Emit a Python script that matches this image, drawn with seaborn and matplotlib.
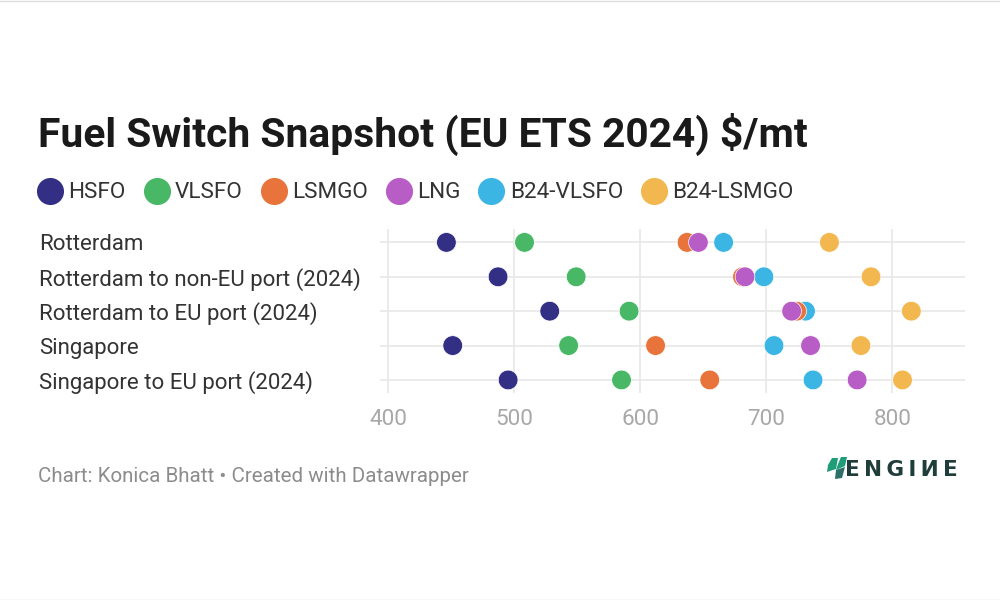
import pandas as pd
import matplotlib.pyplot as plt
from matplotlib.patches import Polygon
import seaborn as sns

# Values, $/mt
ports = ['Rotterdam', 'Rotterdam to non-EU port (2024)', 'Rotterdam to EU port (2024)',
         'Singapore', 'Singapore to EU port (2024)']
hsfo = [446, 487, 528, 451, 495]
vlsfo = [508, 549, 591, 543, 585]
lsmgo = [637, 681, 724, 612, 655]
lng = [646, 683, 720, 735, 772]
b24_vlsfo = [666, 698, 731, 706, 737]
b24_lsmgo = [750, 783, 815, 775, 808]

fuel_order = ['HSFO', 'VLSFO', 'LSMGO', 'LNG', 'B24-VLSFO', 'B24-LSMGO']
fuel_colors = ['#322f85', '#48b866', '#e8743b', '#b85cc6', '#3bb5e4', '#f3b74f']
x_ticks = [400, 500, 600, 700, 800]

sns.set_theme(style='white')
plt.rcParams['font.family'] = ['Roboto', 'DejaVu Sans']

series = {'HSFO': hsfo, 'VLSFO': vlsfo, 'B24-LSMGO': b24_lsmgo, 'B24-VLSFO': b24_vlsfo,
          'LSMGO': lsmgo, 'LNG': lng}  # order here is the drawing order
rows = []
for fuel, values in series.items():
    for port, value in zip(ports, values):
        rows.append({'port': port, 'fuel': fuel, 'price': value})
df = pd.DataFrame(rows)

W, H = 1000, 600
fig = plt.figure(figsize=(10, 6), dpi=100, facecolor='white')
ax = fig.add_axes([380 / W, 1 - 393 / H, 585 / W, 164 / H])

sns.scatterplot(data=df, x='price', y='port', hue='fuel', hue_order=fuel_order,
                palette=fuel_colors, s=200, linewidth=0.5, edgecolor='white',
                ax=ax, zorder=3, clip_on=False)

ax.set_xlim(393.3, 857.6)
ax.set_ylim(4.38, -0.39)
ax.set_xticks(x_ticks)
ax.set_yticks(range(len(ports)))
ax.set_yticklabels(ports)
ax.set_xlabel('')
ax.set_ylabel('')
ax.grid(True, color='#e8e8e8', linewidth=1.2)
ax.set_axisbelow(True)
sns.despine(ax=ax, left=True, bottom=True, top=True, right=True)
ax.tick_params(axis='x', length=0, pad=11.5, labelsize=16.2, labelcolor='#a8a8a8')
ax.tick_params(axis='y', length=0, pad=245.5, labelsize=16.0, labelcolor='#333333')
for label in ax.get_yticklabels():
    label.set_ha('left')

# legend row under the title
handles, labels = ax.get_legend_handles_labels()
ax.legend_.remove()
for h in handles:
    h.set_markersize(19.5)
    h.set_markeredgewidth(0)
fig.legend(handles, labels, ncol=6, loc='center left', bbox_to_anchor=(39 / W, 1 - 193 / H),
           frameon=False, fontsize=16.2, labelcolor='#333333', handlelength=1.0, handletextpad=0.31,
           columnspacing=0.88, borderpad=0, borderaxespad=0)

fig.text(38 / W, 1 - 134 / H, 'Fuel Switch Snapshot (EU ETS 2024) \\$/mt', fontsize=29.35,
         fontweight='bold', color='#1a1a1a', va='center', ha='left')
fig.text(38 / W, 1 - 476 / H, 'Chart: Konica Bhatt • Created with Datawrapper', fontsize=14.77,
         color='#8c8c8c', va='center', ha='left')

# ENGINE logo
fig.text(845 / W, 1 - 470 / H, 'E\u2009N\u2009G\u2009I\u2009И\u2009E', fontsize=15.5, fontweight='bold',
         color='#1f3d3a', family='DejaVu Sans', va='center', ha='left')
logo = [([(832, 458), (838, 458), (836, 469), (827, 472), (828, 465)], '#1f9c78'),
        ([(841, 457), (847, 457), (845, 466), (836, 470), (838, 464)], '#1f9c78'),
        ([(836, 470), (845, 467), (842, 478), (835, 479)], '#2b6f68')]
for pts, color in logo:
    fig.add_artist(Polygon([(x / W, 1 - y / H) for x, y in pts], closed=True, facecolor=color,
                           edgecolor='none', transform=fig.transFigure))

# thin page edges
for y in (0.5, 599.5):
    fig.add_artist(plt.Line2D([0, 1], [1 - y / H, 1 - y / H], color='#dddddd', linewidth=1))

fig.savefig('out.png', dpi=100)
